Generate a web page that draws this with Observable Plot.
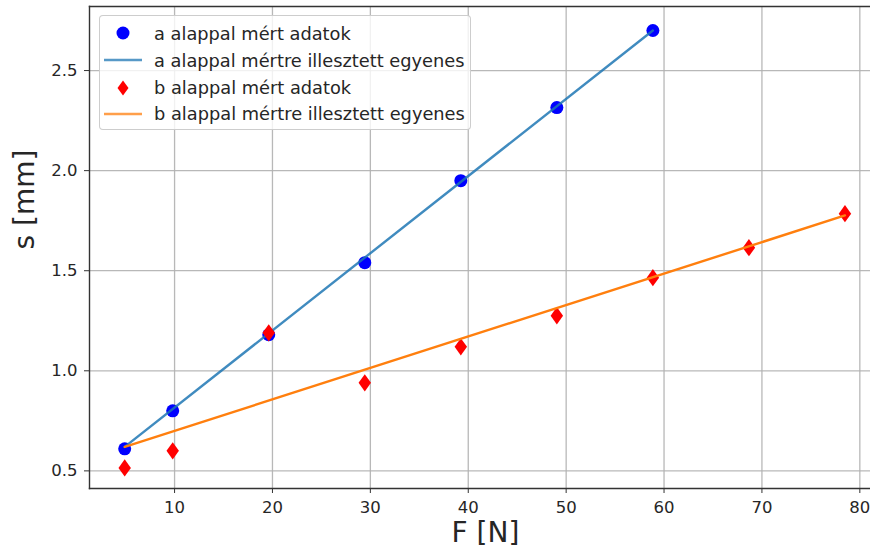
<!DOCTYPE html>
<html>
<head>
<meta charset="utf-8">
<script src="https://cdn.jsdelivr.net/npm/d3@7"></script>
<script src="https://cdn.jsdelivr.net/npm/@observablehq/plot@0.6"></script>
<style>
  html, body { margin: 0; padding: 0; background: #fff; }
  #wrap { position: relative; width: 870px; height: 553px; font-family: "DejaVu Sans", sans-serif; }
  #legend { position: absolute; left: 99px; top: 15px; width: 372px; height: 115px;
    border: 1px solid rgba(200,200,200,0.9); border-radius: 4px; background: rgba(255,255,255,0.8);
    box-sizing: border-box; }
  .row { position: absolute; left: 0; height: 26px; display: flex; align-items: center; }
  .row svg { width: 52px; height: 26px; }
  .row span { font-size: 17.8px; color: #262626; margin-left: 2px; white-space: nowrap; }
</style>
</head>
<body>
<div id="wrap"><div id="legend"></div></div>
<script>
// Data
const F_a = [4.905, 9.81, 19.62, 29.43, 39.24, 49.05, 58.86];
const s_a = [0.61, 0.80, 1.18, 1.54, 1.95, 2.315, 2.70];
const F_b = [4.905, 9.81, 19.62, 29.43, 39.24, 49.05, 58.86, 68.67, 78.48];
const s_b = [0.515, 0.60, 1.19, 0.94, 1.12, 1.275, 1.465, 1.615, 1.785];
const fitA_F = [4.905, 58.86];
const fitA_s = [0.62, 2.70];
const fitB_F = [4.905, 78.48];
const fitB_s = [0.62, 1.776];
const xTicks = [10, 20, 30, 40, 50, 60, 70, 80];
const yTicks = [0.5, 1.0, 1.5, 2.0, 2.5];
const labels = ["a alappal mért adatok", "a alappal mértre illesztett egyenes",
                "b alappal mért adatok", "b alappal mértre illesztett egyenes"];
const xLabel = "F [N]";
const yLabel = "s [mm]";

const A = F_a.map((F, i) => ({F, s: s_a[i]}));
const B = F_b.map((F, i) => ({F, s: s_b[i]}));
const FA = fitA_F.map((F, i) => ({F, s: fitA_s[i]}));
const FB = fitB_F.map((F, i) => ({F, s: fitB_s[i]}));

const thinDiamond = {
  draw(ctx, size) {
    const h = Math.sqrt(size) * 0.75;
    const w = h * 0.72;
    ctx.moveTo(0, -h); ctx.lineTo(w, 0); ctx.lineTo(0, h); ctx.lineTo(-w, 0); ctx.closePath();
  }
};

const blueLine = "#1f77b4";
const orangeLine = "#ff7f0e";

const chart = Plot.plot({
  width: 870,
  height: 553,
  marginLeft: 89,
  marginRight: 0,
  marginTop: 6,
  marginBottom: 65,
  style: {fontFamily: "DejaVu Sans, sans-serif", fontSize: "16.5px", color: "#262626", background: "transparent"},
  x: {domain: [1.31, 81.09], ticks: xTicks, label: null},
  y: {domain: [0.412, 2.82], ticks: yTicks, label: null, tickFormat: d3.format(".1f")},
  marks: [
    Plot.gridX(xTicks, {stroke: "#b0b0b0", strokeOpacity: 0.9, strokeWidth: 1.3}),
    Plot.gridY(yTicks, {stroke: "#b0b0b0", strokeOpacity: 0.9, strokeWidth: 1.3}),
    Plot.axisX(xTicks, {tickSize: 5, tickPadding: 8, fontSize: 16.5, stroke: "#333", fill: "#262626"}),
    Plot.axisY(yTicks, {tickSize: 5, tickPadding: 7, fontSize: 16.5, stroke: "#333", fill: "#262626", tickFormat: d3.format(".1f")}),
    Plot.dot(A, {x: "F", y: "s", r: 6.5, fill: "#0000ff", stroke: null}),
    Plot.line(FA, {x: "F", y: "s", stroke: blueLine, strokeWidth: 2.4, strokeOpacity: 0.85}),
    Plot.dot(B, {x: "F", y: "s", symbol: thinDiamond, r: 6.5, fill: "#ff0000", stroke: null}),
    Plot.line(FB, {x: "F", y: "s", stroke: orangeLine, strokeWidth: 2.4}),
    Plot.frame({anchor: "top", stroke: "#333", strokeWidth: 1.4}),
    Plot.frame({anchor: "left", stroke: "#333", strokeWidth: 1.4}),
    Plot.frame({anchor: "bottom", stroke: "#333", strokeWidth: 1.4}),
    Plot.text([xLabel], {frameAnchor: "bottom", text: d => d, dx: 5.5, dy: 45, fontSize: 28, fill: "#262626", lineAnchor: "middle"}),
    Plot.text([yLabel], {frameAnchor: "left", text: d => d, dx: -64, dy: 2, rotate: -90, fontSize: 28, fill: "#262626", lineAnchor: "middle"})
  ]
});
const wrap = document.getElementById("wrap");
wrap.insertBefore(chart, wrap.firstChild);

// Legend
const legend = document.getElementById("legend");
const rowY = [4, 31, 58.5, 84.5];
const swatches = [
  `<circle cx="23" cy="13" r="6.5" fill="#0000ff"/>`,
  `<line x1="4" x2="42" y1="13" y2="13" stroke="${blueLine}" stroke-width="2.6" stroke-opacity="0.75"/>`,
  `<path d="M23,5.5 L28.5,13 L23,20.5 L17.5,13 Z" fill="#ff0000"/>`,
  `<line x1="4" x2="42" y1="13" y2="13" stroke="${orangeLine}" stroke-width="2.6" stroke-opacity="0.75"/>`
];
labels.forEach((lab, i) => {
  const row = document.createElement("div");
  row.className = "row";
  row.style.top = rowY[i] + "px";
  row.innerHTML = `<svg viewBox="0 0 52 26">${swatches[i]}</svg><span>${lab}</span>`;
  legend.appendChild(row);
});
</script>
</body>
</html>
